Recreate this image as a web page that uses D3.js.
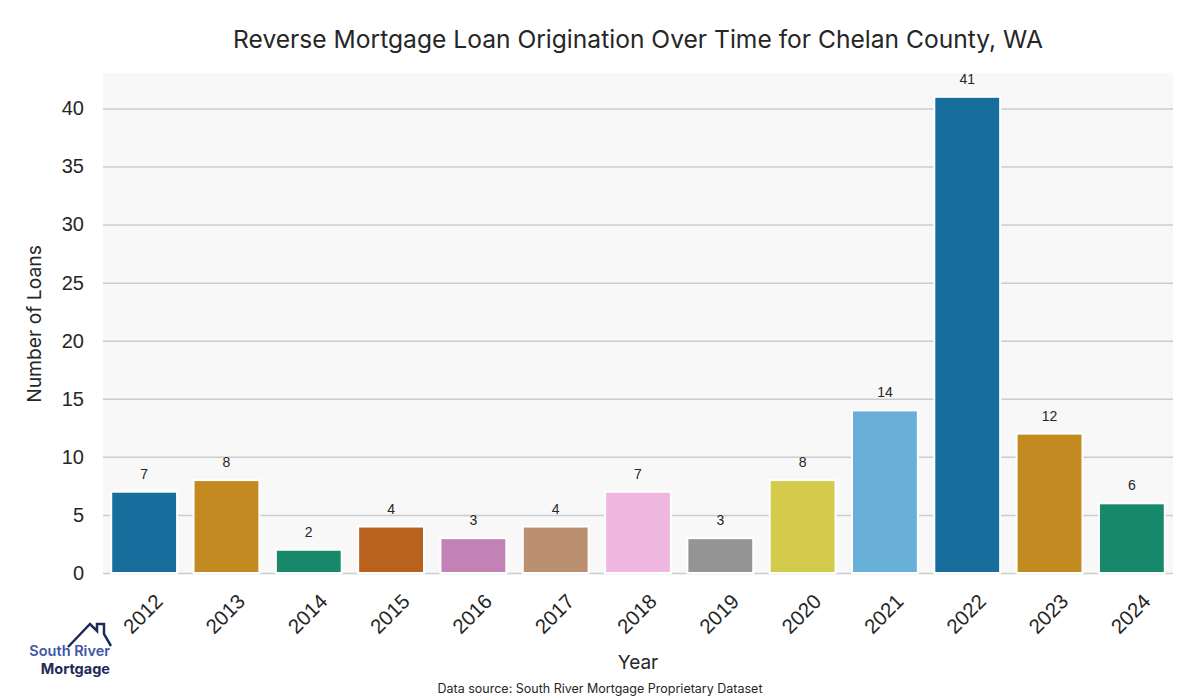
<!DOCTYPE html>
<html><head><meta charset="utf-8">
<script src="https://cdn.jsdelivr.net/npm/d3@7"></script>
<style>body{margin:0;background:#fff}</style>
</head><body>
<svg id="c" width="1200" height="700"></svg>
<script>
const years = ["2012","2013","2014","2015","2016","2017","2018","2019","2020","2021","2022","2023","2024"];
const loans = [7,8,2,4,3,4,7,3,8,14,41,12,6];
const colors = ["#176d9c","#c48a22","#17896a","#b8621e","#c282b5","#bb9070","#f0b8e0","#949494","#d4cb4c","#68b0d8","#176d9c","#c48a22","#17896a"];
const yTicks = [0,5,10,15,20,25,30,35,40];

const svg = d3.select("#c");
const m = {l:103, r:1173, t:73, b:573};
const x = d3.scaleBand().domain(years).range([m.l, m.r]).paddingInner(0.2).paddingOuter(0.1);
const y = d3.scaleLinear().domain([0, 43.05]).range([m.b, m.t]);

svg.append("rect").attr("x", m.l).attr("y", m.t).attr("width", m.r-m.l).attr("height", m.b-m.t).attr("fill", "#f8f8f8");

const ya = svg.append("g").attr("transform", `translate(${m.l},0)`)
  .call(d3.axisLeft(y).tickValues(yTicks).tickSize(-(m.r-m.l)).tickPadding(19));
ya.select(".domain").remove();
ya.selectAll("line").attr("stroke", "#cccccc").attr("stroke-width", 1.5);
ya.selectAll("text").attr("font-family", "Liberation Sans, Arial").attr("font-size", 20).attr("fill", "#262626");

svg.append("g").selectAll("rect").data(years).join("rect")
  .attr("x", d => x(d)).attr("width", x.bandwidth())
  .attr("y", (d,i) => y(loans[i])).attr("height", (d,i) => y(0) - y(loans[i]))
  .attr("fill", (d,i) => colors[i]).attr("stroke", "#fff").attr("stroke-width", 2);

svg.append("g").selectAll("text").data(years).join("text")
  .attr("x", d => x(d) + x.bandwidth()/2).attr("y", (d,i) => y(loans[i]) - 13)
  .attr("text-anchor", "middle").attr("font-family", "Liberation Sans, Arial").attr("font-size", 14).attr("fill", "#262626")
  .text((d,i) => loans[i]);

const xa = svg.append("g").attr("transform", `translate(0,${m.b})`)
  .call(d3.axisBottom(x).tickSize(0).tickPadding(0));
xa.select(".domain").remove();
xa.selectAll("text")
  .attr("font-family", "Liberation Sans, Arial").attr("font-size", 20.5).attr("fill", "#262626")
  .attr("text-anchor", "middle").attr("dy", null).attr("y", 0)
  .attr("transform", "translate(0,42) rotate(-45)").attr("dominant-baseline", "middle");

svg.append("text").attr("x", 638).attr("y", 48).attr("text-anchor", "middle")
  .attr("font-family", "Inter, sans-serif").attr("font-size", 24.6).attr("fill", "#262626")
  .text("Reverse Mortgage Loan Origination Over Time for Chelan County, WA");

svg.append("text").attr("transform", "translate(41,324) rotate(-90)").attr("text-anchor", "middle")
  .attr("font-family", "Inter, sans-serif").attr("font-size", 19.3).attr("fill", "#262626")
  .text("Number of Loans");

svg.append("text").attr("x", 638).attr("y", 669).attr("text-anchor", "middle")
  .attr("font-family", "Inter, sans-serif").attr("font-size", 19).attr("fill", "#262626")
  .text("Year");

svg.append("text").attr("x", 600).attr("y", 693).attr("text-anchor", "middle")
  .attr("font-family", "Inter, sans-serif").attr("font-size", 12.5).attr("fill", "#262626")
  .text("Data source: South River Mortgage Proprietary Dataset");

// logo
const logo = svg.append("g");
logo.append("path").attr("d", "M68,647 L90,624 L97,631 L97,624 L104,624 L104,634 L111,646")
  .attr("fill", "none").attr("stroke", "#1f2a5c").attr("stroke-width", 2.5).attr("stroke-linejoin", "miter");
logo.append("text").attr("x", 110).attr("y", 656).attr("text-anchor", "end")
  .attr("font-family", "Inter, sans-serif").attr("font-weight", 600).attr("font-size", 14.5).attr("fill", "#3d56a8")
  .text("South River");
logo.append("text").attr("x", 110).attr("y", 674).attr("text-anchor", "end")
  .attr("font-family", "Inter, sans-serif").attr("font-weight", 700).attr("font-size", 14.5).attr("fill", "#1f2a5c")
  .text("Mortgage");
</script>
</body></html>
